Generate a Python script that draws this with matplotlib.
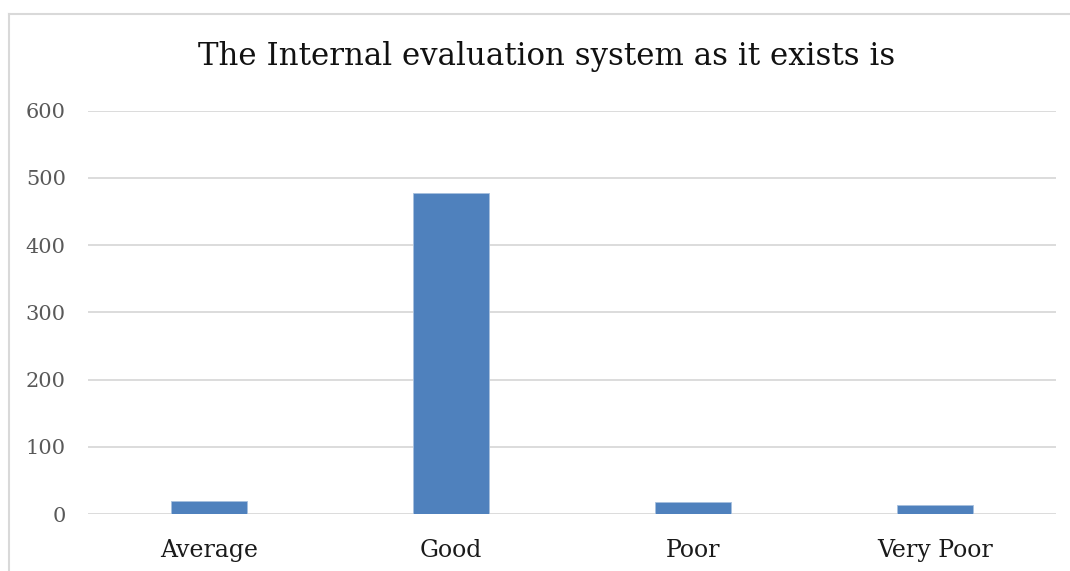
import matplotlib.pyplot as plt
from matplotlib.lines import Line2D

categorias = ['Average', 'Good', 'Poor', 'Very Poor']
valores = [20, 478, 18, 13]
ticks_y = [0, 100, 200, 300, 400, 500, 600]

titulo = 'The Internal evaluation system as it exists is'

plt.rcParams['font.family'] = ['DejaVu Serif']

fig = plt.figure(figsize=(10.70, 5.71), dpi=100)
ax = fig.add_axes([88 / 1070, 57 / 571, (1056 - 88) / 1070, (514 - 110.7) / 571])

x = range(len(categorias))
ax.bar(x, valores, width=0.315, color='#4f81bd', edgecolor='#a7c0de', linewidth=0.6, zorder=3)

ax.set_xlim(-0.5, len(categorias) - 0.5)
ax.set_ylim(0, 600)
ax.set_yticks(ticks_y)
ax.set_xticks(list(x))
ax.set_xticklabels(categorias, fontsize=17, color='#1a1a1a')
ax.tick_params(axis='y', labelsize=15, colors='#595959', length=0, pad=16)
ax.tick_params(axis='x', length=0, pad=18)
ax.grid(axis='y', color='#d9d9d9', linewidth=1.3, zorder=0)
for s in ax.spines.values():
    s.set_visible(False)

fig.text(547 / 1070, 1 - 57 / 571, titulo, ha='center', va='center', fontsize=22.2, color='#111111')

# borde del area del grafico (solo arriba e izquierda se ven)
fig.add_artist(Line2D([8.5 / 1070, 1069 / 1070], [1 - 13.5 / 571, 1 - 13.5 / 571],
                      transform=fig.transFigure, color='#d9d9d9', linewidth=1.5))
fig.add_artist(Line2D([8.5 / 1070, 8.5 / 1070], [0, 1 - 13.5 / 571],
                      transform=fig.transFigure, color='#d9d9d9', linewidth=1.5))

fig.savefig('out.png', dpi=100)
